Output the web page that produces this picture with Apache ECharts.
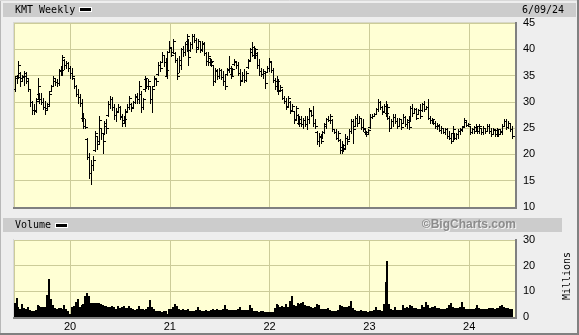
<!DOCTYPE html>
<html><head><meta charset="utf-8">
<script src="https://cdn.jsdelivr.net/npm/echarts@6/dist/echarts.min.js"></script>
<style>html,body{margin:0;padding:0;background:#eeeeee}#c{width:579px;height:335px}</style>
</head><body><div id="c"></div>
<script>
// ---- data (weekly bars, Fridays) ----
const FIRST_BAR = '2019-06-14';
const X_START = '2019-06-10';
const X_END = '2024-06-17';
const TITLE = 'KMT Weekly';
const DATE_LABEL = '6/09/24';

const highs = [
34.9,35.2,37.8,35.6,35.2,35.9,35.6,34.3,32.4,30.2,
29.5,30.8,34.6,31.7,31.7,30.8,30.2,29.8,32.0,33.3,
35.0,34.3,34.3,36.2,36.8,38.9,38.1,37.8,37.5,36.8,
36.5,34.6,33.3,32.4,31.4,30.5,27.9,26.7,23.2,20.3,
19.0,19.7,24.4,23.5,27.3,25.1,24.1,26.3,26.7,30.2,
31.1,31.0,29.5,28.9,29.5,29.2,27.6,27.3,28.6,29.5,
31.1,29.8,30.2,31.4,31.7,34.0,32.0,30.8,34.9,34.6,
34.3,33.0,33.0,34.9,34.6,37.5,37.8,39.4,39.0,38.4,
39.7,41.6,40.3,41.9,39.4,38.4,38.7,40.3,40.6,41.3,
42.9,41.9,41.3,42.9,42.9,42.2,41.9,41.6,41.6,41.3,
39.4,39.4,38.4,38.1,37.1,36.5,36.2,36.5,36.2,35.9,
35.2,36.5,38.7,36.8,36.5,38.1,37.8,37.5,36.2,35.6,
36.2,35.9,38.1,40.3,41.3,40.6,40.3,39.4,38.1,36.5,
36.2,35.6,36.8,38.4,37.5,36.5,34.6,34.9,34.3,33.3,
32.4,31.1,30.8,31.1,30.2,29.5,28.3,29.2,27.6,27.3,
27.3,27.0,27.3,27.3,28.9,28.3,29.2,26.7,24.4,24.1,
23.8,24.4,26.0,27.0,27.3,27.6,26.7,24.8,24.8,24.4,
22.9,22.5,21.9,23.8,23.5,24.8,26.7,26.7,27.3,27.6,
27.3,27.0,26.7,24.8,24.4,24.8,27.6,27.6,27.9,28.9,
30.6,30.2,29.2,29.5,30.2,29.5,27.3,26.7,27.6,27.6,
27.0,27.0,26.7,27.6,27.3,26.7,27.3,29.2,29.5,28.9,
28.9,28.6,29.5,29.8,30.2,29.2,30.6,27.3,27.0,26.7,
26.3,26.0,25.7,25.4,25.1,25.1,25.1,24.4,24.1,25.4,
24.1,24.1,24.8,25.1,25.4,27.0,26.3,26.0,25.4,25.1,
25.4,25.7,25.4,25.7,25.1,25.4,25.1,25.7,25.7,25.1,
25.1,24.8,25.1,24.8,24.8,25.7,26.7,26.7,26.3,26.0,25.4];

const lows = [
32.1,33.6,34.6,33.0,34.0,33.3,33.6,32.1,29.2,27.6,
27.6,28.0,30.5,29.8,29.5,28.6,27.6,28.6,29.2,32.0,
33.0,33.3,33.0,33.3,35.2,35.2,36.2,36.5,35.9,34.6,
34.3,32.7,31.1,29.8,29.2,26.3,25.0,25.1,19.1,15.6,
14.3,17.1,20.6,21.0,22.2,22.9,20.3,23.8,24.1,27.3,
28.9,28.5,26.7,26.3,28.2,26.7,25.4,26.0,25.4,28.2,
28.6,28.2,28.9,29.8,29.8,29.8,28.0,28.6,32.0,32.7,
32.4,29.8,28.0,33.0,33.3,35.2,35.9,37.5,36.8,35.2,
34.6,39.4,38.7,39.4,37.5,34.3,35.6,36.2,38.7,39.0,
39.7,37.1,39.7,40.3,41.3,39.4,40.3,39.4,39.7,39.0,
37.1,37.1,37.1,36.8,33.3,33.7,34.3,34.6,34.3,33.3,
32.4,35.2,35.6,34.6,35.2,37.1,36.5,35.2,33.3,34.0,
33.7,34.0,36.5,37.8,38.7,38.4,38.4,36.5,35.2,34.9,
34.6,32.7,35.6,35.9,35.6,33.7,32.4,32.1,31.4,32.1,
30.5,29.8,28.6,29.2,27.9,28.3,26.0,26.7,25.7,25.4,
25.4,25.1,25.4,24.8,26.0,27.3,25.4,25.1,21.9,21.6,
22.2,23.2,24.1,25.1,26.3,26.0,24.4,24.1,22.9,22.5,
20.3,20.3,20.6,21.3,21.9,22.9,24.1,22.2,25.4,25.4,
26.0,24.8,24.4,23.8,23.5,23.8,25.1,27.0,27.3,27.6,
28.3,28.6,27.6,28.3,27.3,26.7,24.4,25.1,25.4,26.0,
25.1,25.4,24.8,26.0,25.4,25.1,24.8,26.3,27.3,27.9,
26.7,27.6,27.0,28.3,28.3,28.6,26.7,26.0,26.0,25.7,
25.1,24.8,24.4,24.1,24.1,23.8,23.2,22.9,22.1,22.5,
22.9,22.9,23.2,23.8,24.4,25.4,25.4,25.4,23.8,24.1,
24.1,24.4,24.1,24.1,23.8,23.8,24.1,24.4,24.1,23.5,
23.8,23.5,23.5,23.5,23.8,23.8,25.4,24.8,25.1,24.4,23.2];

const opens = [
32.5,34.5,35.0,35.5,34.5,35.0,35.0,34.0,32.5,30.0,
28.5,28.5,30.5,31.5,30.5,30.0,29.0,28.8,29.5,32.0,
33.0,34.0,33.7,33.5,35.8,36.0,38.0,37.0,37.3,36.5,
35.5,34.5,33.0,31.5,31.0,29.8,27.0,25.5,23.0,19.5,
16.5,18.0,20.8,23.5,22.5,25.0,24.0,24.0,25.5,27.5,
29.5,30.5,29.0,27.5,28.2,29.0,27.2,26.0,26.5,28.3,
29.0,29.5,29.0,30.0,31.0,30.5,31.5,29.0,32.5,34.3,
33.0,33.0,30.5,33.0,34.3,35.3,37.0,37.5,39.0,37.5,
35.0,39.5,40.3,39.5,39.2,38.0,35.5,37.0,40.0,39.5,
41.0,41.5,39.8,41.0,42.5,41.8,40.5,41.5,40.0,41.0,
39.3,37.8,38.3,37.5,37.0,34.0,35.8,35.0,36.0,34.8,
34.0,35.3,36.0,36.5,35.3,37.2,37.5,37.0,35.5,34.2,
35.2,34.2,36.6,38.0,39.5,40.5,39.0,39.2,37.0,35.8,
35.3,35.5,35.7,36.5,37.5,36.0,34.2,33.0,34.0,32.2,
32.3,30.8,30.2,29.3,30.0,28.5,28.3,26.8,27.5,26.0,
26.8,25.7,26.5,25.8,26.8,28.2,27.5,26.0,24.2,22.5,
23.5,23.3,24.2,25.5,26.8,26.5,26.5,24.8,24.3,23.2,
22.8,20.8,21.5,21.3,23.2,23.0,24.5,26.3,25.5,27.0,
26.0,27.0,25.2,24.8,24.2,23.9,25.2,27.2,27.4,27.7,
28.6,30.0,29.0,28.3,29.2,27.8,27.0,25.1,26.3,27.2,
26.3,25.5,26.7,26.0,27.2,25.8,26.2,26.5,28.8,27.9,
28.6,27.6,28.4,28.4,29.5,28.6,29.1,27.0,26.5,26.6,
26.0,25.4,25.5,24.7,25.0,24.3,24.8,23.6,23.2,22.6,
24.0,23.2,23.8,24.5,24.6,25.5,26.2,25.6,25.4,24.2,
24.9,24.5,25.2,24.4,25.0,24.2,25.0,24.5,25.4,24.4,
23.8,24.6,23.9,24.6,23.9,24.2,25.5,26.3,25.3,26.0,24.8];

const closes = [
34.5,34.8,37.0,34.0,34.8,35.5,34.5,32.5,30.0,28.5,
28.2,30.2,33.0,30.5,30.0,29.0,28.5,29.3,31.5,33.0,
34.5,33.8,33.5,35.8,36.0,38.5,37.0,37.3,36.5,35.5,
35.0,33.0,31.5,31.0,29.8,27.0,25.5,25.2,19.5,16.5,
18.0,19.0,24.0,22.0,26.5,24.0,22.5,26.0,25.0,29.5,
30.5,29.0,27.5,28.0,29.0,27.3,26.0,26.8,28.0,29.0,
30.8,28.8,30.0,31.2,30.5,33.0,29.0,30.5,34.5,33.0,
34.0,30.5,32.5,34.5,34.0,37.0,36.5,39.0,37.5,36.0,
39.5,40.5,39.0,41.5,38.0,35.0,38.0,40.0,39.5,41.0,
42.5,38.5,41.0,42.5,41.8,40.0,41.5,39.8,41.2,39.3,
37.8,38.8,37.5,37.8,34.0,36.0,35.0,36.0,34.8,34.0,
33.0,36.2,36.5,35.0,36.2,37.8,37.0,35.5,34.0,35.2,
34.2,35.5,37.8,40.0,40.5,39.0,40.0,37.0,35.8,35.3,
35.8,33.5,36.5,37.8,36.0,34.2,33.0,34.0,32.0,32.8,
30.8,30.2,29.0,30.8,28.3,29.2,26.5,28.8,26.0,26.8,
25.7,26.5,25.8,26.8,28.5,27.5,26.0,25.5,22.5,23.5,
22.6,24.2,25.8,26.8,26.5,27.3,24.8,24.3,23.2,24.0,
20.8,21.8,21.0,23.2,22.5,24.5,26.3,24.8,27.0,26.0,
27.0,25.2,25.0,24.2,23.8,24.6,27.2,27.4,27.7,28.6,
30.0,29.0,28.0,29.2,27.8,29.0,25.0,26.3,27.2,26.3,
25.5,26.7,25.2,27.2,25.8,26.2,25.2,28.8,27.8,28.6,
27.0,28.4,27.4,29.5,28.6,29.1,27.0,26.5,26.8,26.0,
25.4,25.6,24.7,25.0,24.3,24.8,23.6,23.2,22.6,24.8,
23.2,23.8,24.5,24.8,25.2,26.6,25.6,25.8,24.2,24.9,
24.5,25.4,24.4,25.4,24.2,25.0,24.5,25.5,24.4,23.8,
24.8,23.9,24.8,23.8,24.5,25.5,26.4,25.2,26.0,24.8,23.6];

// weekly volume, millions of shares
const volumes = [
5.5,7.5,4.0,3.0,5.0,3.5,3.2,4.0,2.6,2.5,
2.4,2.6,4.5,4.2,3.8,3.8,4.0,8.5,15.0,7.0,
4.5,3.5,3.3,3.4,3.6,3.2,4.5,3.0,2.5,1.3,
4.0,4.2,5.8,7.0,3.8,4.5,5.0,8.0,9.5,8.0,
5.5,5.3,5.5,5.5,5.4,5.2,4.6,4.3,4.2,4.0,
4.0,4.2,4.0,3.2,4.3,3.6,3.8,4.3,3.7,3.4,
4.3,3.5,3.0,2.9,3.1,4.3,3.2,3.0,2.9,3.3,
4.0,6.7,3.8,3.0,2.4,2.2,2.5,2.1,2.3,2.4,
1.3,3.0,3.2,4.0,5.0,4.2,3.0,2.8,3.0,2.9,
2.6,3.0,2.4,2.5,2.3,2.6,3.8,2.6,2.4,2.3,
2.6,2.2,2.5,2.7,3.0,2.8,3.0,2.6,2.8,3.0,
4.5,3.2,2.8,2.7,2.9,2.7,2.8,3.0,3.8,2.8,
2.6,2.7,2.9,4.5,3.5,2.5,2.2,2.3,2.0,2.2,
2.4,2.1,1.9,1.8,1.9,2.0,3.5,5.0,4.5,3.8,
4.3,3.8,5.0,4.0,6.4,8.2,4.5,4.2,5.4,5.2,
5.6,5.8,4.5,4.3,4.2,4.0,3.6,3.8,5.0,4.8,
3.2,3.0,3.1,3.0,3.6,2.6,2.4,2.3,2.5,2.7,
4.5,4.2,4.0,3.8,4.0,4.3,6.4,3.5,2.6,2.5,
2.4,2.6,2.5,2.3,2.2,2.0,2.5,2.3,2.6,4.0,
2.8,2.6,2.5,5.0,13.6,21.8,5.0,3.0,2.8,4.0,
2.7,2.6,2.8,4.8,3.5,3.8,3.6,4.5,4.3,3.7,
3.5,3.0,3.2,4.5,3.8,5.8,4.5,3.5,3.8,4.0,
4.1,3.6,3.4,3.2,3.0,3.0,3.5,4.5,5.3,4.0,
3.6,3.7,3.6,3.8,6.0,4.0,3.2,3.1,3.2,3.0,
3.2,3.5,4.5,3.4,3.3,3.2,3.1,3.2,3.5,3.4,
3.5,3.3,3.4,3.6,4.2,4.6,4.0,3.5,3.4,3.0,3.2];

// ---- build ----
const DAY = 864e5;
function yearFrac(t) {
  const y = new Date(t).getUTCFullYear();
  const s = Date.UTC(y, 0, 1), e = Date.UTC(y + 1, 0, 1);
  return y + (t - s) / (e - s);
}
const t0 = Date.parse(FIRST_BAR + 'T00:00:00Z');
const xs = closes.map((_, i) => yearFrac(t0 + i * 7 * DAY));
const xMin = yearFrac(Date.parse(X_START + 'T00:00:00Z'));
const xMax = yearFrac(Date.parse(X_END + 'T00:00:00Z'));
const ohlcData = xs.map((x, i) => [x, opens[i], highs[i], lows[i], closes[i]]);
const volData = xs.map((x, i) => [x, volumes[i]]);

const MONO = '"DejaVu Sans Mono", monospace';
const SANS = '"Liberation Sans", Arial, sans-serif';
const GRIDC = '#cccc99';
const BG = '#ffffd4';

function ohlcRender(params, api) {
  const xv = api.value(0);
  const po = api.coord([xv, api.value(1)]);
  const ph = api.coord([xv, api.value(2)]);
  const pl = api.coord([xv, api.value(3)]);
  const pc = api.coord([xv, api.value(4)]);
  const x = Math.floor(po[0]);
  const yh = Math.round(ph[1]), yl = Math.round(pl[1]);
  return { type: 'group', children: [
    { type: 'rect', shape: { x: x, y: yh, width: 1, height: Math.max(1, yl - yh + 1) }, style: { fill: '#000' } },
    { type: 'rect', shape: { x: x - 2, y: Math.round(po[1]), width: 2, height: 1 }, style: { fill: '#000' } },
    { type: 'rect', shape: { x: x + 1, y: Math.round(pc[1]), width: 2, height: 1 }, style: { fill: '#000' } }
  ]};
}
function volRender(params, api) {
  const xv = api.value(0);
  const top = api.coord([xv, api.value(1)]);
  const base = api.coord([xv, 0]);
  const x = Math.floor(top[0]) - 1;
  const y = Math.round(top[1]);
  return { type: 'rect', shape: { x: x, y: y, width: 2, height: Math.round(base[1]) - y }, style: { fill: '#000' } };
}

function xAxisCfg(idx, showLabel) {
  return {
    type: 'value', gridIndex: idx, min: xMin, max: xMax, splitNumber: 5,
    axisLine: { show: false }, axisTick: { show: false },
    axisLabel: { show: showLabel, showMinLabel: false, showMaxLabel: false, margin: 4,
      color: '#000', fontSize: 11, fontFamily: SANS,
      formatter: v => String(Math.round(v) % 100).padStart(2, '0') },
    splitLine: { show: true, lineStyle: { color: GRIDC, width: 1 } }
  };
}
function yAxisCfg(idx, min, max, interval) {
  return {
    type: 'value', gridIndex: idx, position: 'right', min: min, max: max, interval: interval,
    axisLine: { show: false }, axisTick: { show: false },
    axisLabel: { margin: 8, color: '#000', fontSize: 11, fontFamily: SANS },
    splitLine: { show: true, lineStyle: { color: GRIDC, width: 1 } }
  };
}
function line(x1, y1, x2, y2, color, w) {
  return { type: 'line', z: 100, silent: true, shape: { x1, y1, x2, y2 }, style: { stroke: color, lineWidth: w } };
}
function txt(x, y, text, font, fill, align, extra) {
  return Object.assign({ type: 'text', z: 50, silent: true, x: x, y: y,
    style: { text: text, font: font, fill: fill, align: align, verticalAlign: 'middle', textAlign: align, textVerticalAlign: 'middle' } }, extra || {});
}

const chart = echarts.init(document.getElementById('c'), null, { renderer: 'canvas' });
chart.setOption({
  animation: false,
  backgroundColor: '#eeeeee',
  grid: [
    { left: 14, top: 23, width: 501, height: 184, show: true, backgroundColor: BG, borderWidth: 0, outerBoundsMode: 'none' },
    { left: 14, top: 240, width: 501, height: 77, show: true, backgroundColor: BG, borderWidth: 0, outerBoundsMode: 'none' }
  ],
  xAxis: [xAxisCfg(0, false), xAxisCfg(1, true)],
  yAxis: [yAxisCfg(0, 10, 45, 5), yAxisCfg(1, 0, 30, 10)],
  series: [
    { type: 'custom', xAxisIndex: 0, yAxisIndex: 0, renderItem: ohlcRender, data: ohlcData,
      encode: { x: 0, y: [1, 2, 3, 4] }, clip: true, silent: true, z: 5 },
    { type: 'custom', xAxisIndex: 1, yAxisIndex: 1, renderItem: volRender, data: volData,
      encode: { x: 0, y: 1 }, clip: true, silent: true, z: 5 }
  ],
  graphic: { elements: [
    { type: 'rect', z: 40, silent: true, shape: { x: 3, y: 3, width: 573, height: 14 }, style: { fill: '#cccccc' } },
    { type: 'rect', z: 40, silent: true, shape: { x: 3, y: 218, width: 559, height: 14 }, style: { fill: '#cccccc' } },
    txt(15, 10.5, TITLE, '10px ' + MONO, '#000', 'left'),
    { type: 'rect', z: 50, silent: true, shape: { x: 79, y: 7, width: 13, height: 5 }, style: { fill: '#ffffff' } },
    { type: 'rect', z: 51, silent: true, shape: { x: 80, y: 8, width: 11, height: 3 }, style: { fill: '#000000' } },
    txt(522, 10.5, DATE_LABEL, '10px ' + MONO, '#000', 'left'),
    txt(15, 225.5, 'Volume', '10px ' + MONO, '#000', 'left'),
    { type: 'rect', z: 50, silent: true, shape: { x: 55, y: 223, width: 13, height: 5 }, style: { fill: '#ffffff' } },
    { type: 'rect', z: 51, silent: true, shape: { x: 56, y: 224, width: 11, height: 3 }, style: { fill: '#000000' } },
    txt(517, 226, '\u00A9BigCharts.com', 'bold 12px ' + SANS, '#f4f4f4', 'right'),
    txt(516, 225, '\u00A9BigCharts.com', 'bold 12px ' + SANS, '#8c8c8c', 'right'),
    txt(567, 276, 'Millions', '10px ' + MONO, '#000', 'center', { rotation: Math.PI / 2 }),
    // plot frames
    line(14, 22.5, 516, 22.5, '#d8d8c8', 1),
    line(13.5, 22, 13.5, 208, '#d8d8d8', 1),
    line(13, 208, 517, 208, '#808080', 2),
    line(516, 22, 516, 209, '#808080', 2),
    line(13.5, 239, 13.5, 318, '#d8d8d8', 1),
    line(13, 318, 517, 318, '#808080', 2),
    line(516, 239, 516, 319, '#808080', 2),
    // outer frame
    line(0.5, 0, 0.5, 335, '#b8b8b8', 1),
    line(0, 0.5, 579, 0.5, '#d8d8d8', 1),
    line(578, 0, 578, 335, '#808080', 2),
    line(0, 334, 579, 334, '#808080', 2)
  ]}
});
</script>
</body></html>
